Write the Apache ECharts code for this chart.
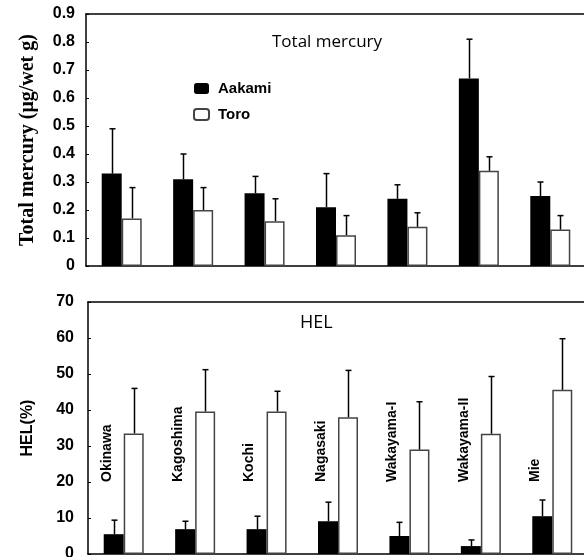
<!DOCTYPE html>
<html>
<head>
<meta charset="utf-8">
<script src="https://cdn.jsdelivr.net/npm/echarts@6/dist/echarts.min.js"></script>
<style>
  html, body { margin: 0; padding: 0; background: #fff; }
  #chart { width: 584px; height: 557px; }
</style>
</head>
<body>
<div id="chart"></div>
<script>
var categories = ['Okinawa', 'Kagoshima', 'Kochi', 'Nagasaki', 'Wakayama-I', 'Wakayama-II', 'Mie'];

// total mercury (ug/wet g), mean and SD
var hgAakami   = [0.33, 0.31, 0.26, 0.21, 0.24, 0.67, 0.25];
var hgAakamiSd = [0.16, 0.09, 0.06, 0.12, 0.05, 0.14, 0.05];
var hgToro     = [0.17, 0.20, 0.16, 0.11, 0.14, 0.34, 0.13];
var hgToroSd   = [0.11, 0.08, 0.08, 0.07, 0.05, 0.05, 0.05];

// HEL (%), mean and SD
var helAakami   = [5.5, 6.9, 6.9, 9.1, 5.0, 2.2, 10.5];
var helAakamiSd = [3.9, 2.2, 3.6, 5.3, 3.8, 1.7, 4.5];
var helToro     = [33.5, 39.6, 39.6, 38.0, 29.0, 33.4, 45.6];
var helToroSd   = [12.5, 11.6, 5.6, 13.0, 13.3, 15.9, 14.2];

var hgTicks  = { min: 0, max: 0.9, interval: 0.1 };
var helTicks = { min: 0, max: 70, interval: 10 };

var FONT = '"Liberation Sans", Arial, sans-serif';
var BAR_W = 20;

// error bar, upward only, drawn over one bar of the pair
function errorBars(idx, vals, sds, side) {
    return {
        type: 'custom',
        name: 'err' + idx + side,
        xAxisIndex: idx,
        yAxisIndex: idx,
        z: 10,
        silent: true,
        data: vals.map(function (v, i) { return [i, v, v + sds[i]]; }),
        renderItem: function (params, api) {
            var base = api.coord([api.value(0), api.value(1)]);
            var top = api.coord([api.value(0), api.value(2)]);
            var x = Math.round(base[0] + side * BAR_W / 2) + 0.5;
            var st = { stroke: '#000', lineWidth: 1.5 };
            return {
                type: 'group',
                children: [
                    { type: 'line', shape: { x1: x, y1: base[1], x2: x, y2: top[1] }, style: st },
                    { type: 'line', shape: { x1: x - 3, y1: top[1], x2: x + 3, y2: top[1] }, style: st }
                ]
            };
        }
    };
}

function bars(name, idx, vals) {
    var black = name === 'Aakami';
    return {
        type: 'bar',
        name: name,
        xAxisIndex: idx,
        yAxisIndex: idx,
        barWidth: BAR_W,
        barGap: '0%',
        data: vals,
        itemStyle: black
            ? { color: '#000' }
            : { color: '#fff', borderColor: '#444', borderWidth: 1.5 }
    };
}

function catAxis(idx) {
    return {
        type: 'category',
        gridIndex: idx,
        data: categories,
        axisLine: { lineStyle: { color: '#000', width: 1.5 } },
        axisTick: { inside: true, length: 3, lineStyle: { color: '#000' } },
        axisLabel: { show: false },
        splitLine: { show: false }
    };
}

// plain line along the top of a plot
function topFrame(idx) {
    return {
        type: 'category',
        gridIndex: idx,
        position: 'top',
        data: categories,
        axisLine: { lineStyle: { color: '#000', width: 1.5 } },
        axisTick: { show: false },
        axisLabel: { show: false },
        splitLine: { show: false }
    };
}

function valAxis(idx, t, name, nameFont, gap, margin) {
    return {
        type: 'value',
        gridIndex: idx,
        min: t.min,
        max: t.max,
        interval: t.interval,
        name: name,
        nameLocation: 'middle',
        nameGap: gap,
        nameTextStyle: nameFont,
        axisLine: { show: true, lineStyle: { color: '#000', width: 1.5 } },
        axisTick: { show: true, inside: true, length: 3, lineStyle: { color: '#000' } },
        axisLabel: { color: '#000', fontWeight: 'bold', fontSize: 16, fontFamily: FONT, margin: margin },
        splitLine: { show: false }
    };
}

var chart = echarts.init(document.getElementById('chart'), null, { renderer: 'canvas' });

var option = {
    backgroundColor: '#fff',
    animation: false,
    title: [
        { text: 'Total mercury', left: 272, top: 34, padding: 0,
          textStyle: { fontFamily: '"Open Sans", sans-serif', fontWeight: 'normal', fontSize: 17, color: '#000' } },
        { text: 'HEL', left: 300, top: 314, padding: 0,
          textStyle: { fontFamily: '"Open Sans", sans-serif', fontWeight: 'normal', fontSize: 18, color: '#000' } }
    ],
    legend: {
        data: ['Aakami', 'Toro'],
        orient: 'vertical',
        left: 193,
        top: 81,
        padding: 0,
        itemWidth: 15,
        itemHeight: 11,
        itemGap: 11,
        textStyle: { color: '#000', fontWeight: 'bold', fontSize: 15, fontFamily: FONT, padding: [0, 0, 0, 4] }
    },
    grid: [
        { left: 86, top: 14, width: 500, height: 252, outerBoundsMode: 'none', containLabel: false },
        { left: 88, top: 302, width: 500, height: 252, outerBoundsMode: 'none', containLabel: false }
    ],
    xAxis: [catAxis(0), catAxis(1), topFrame(0), topFrame(1)],
    yAxis: [
        valAxis(0, hgTicks, 'Total mercury (\u03bcg/wet g)',
            { color: '#000', fontWeight: 'bold', fontSize: 20, fontFamily: '"Liberation Serif", "Times New Roman", serif' }, 48, 11),
        valAxis(1, helTicks, 'HEL(%)',
            { color: '#000', fontWeight: 'bold', fontSize: 16, fontFamily: FONT }, 52, 14)
    ],
    series: [
        bars('Aakami', 0, hgAakami),
        bars('Toro', 0, hgToro),
        errorBars(0, hgAakami, hgAakamiSd, -1),
        errorBars(0, hgToro, hgToroSd, 1),
        bars('Aakami', 1, helAakami),
        bars('Toro', 1, helToro),
        errorBars(1, helAakami, helAakamiSd, -1),
        errorBars(1, helToro, helToroSd, 1),
        {
            // site names written upward inside the lower plot
            type: 'custom',
            name: 'sites',
            xAxisIndex: 1,
            yAxisIndex: 1,
            z: 11,
            silent: true,
            data: categories.map(function (c, i) { return [i]; }),
            renderItem: function (params, api) {
                var i = api.value(0);
                var p = api.coord([i, 20]);
                return {
                    type: 'text',
                    x: p[0] - 17,
                    y: p[1],
                    rotation: Math.PI / 2,
                    style: {
                        text: categories[i],
                        font: 'bold 14px ' + FONT,
                        fill: '#000',
                        textAlign: 'left',
                        textVerticalAlign: 'middle',
                        align: 'left',
                        verticalAlign: 'middle'
                    }
                };
            }
        }
    ]
};

chart.setOption(option);
</script>
</body>
</html>
